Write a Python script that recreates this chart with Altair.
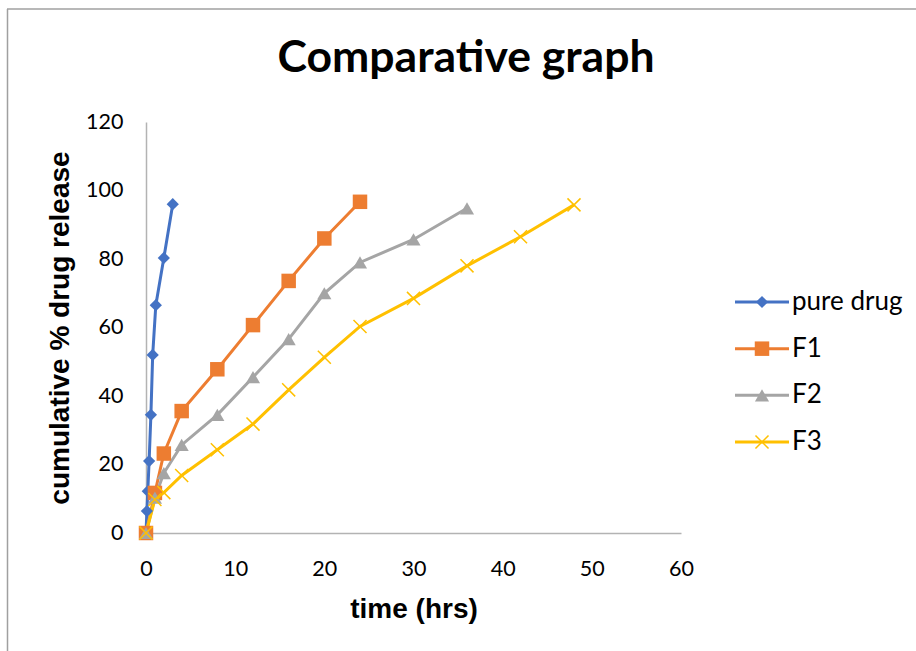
import altair as alt
import pandas as pd

# ---- data ----
pure_t = [0, 0.1, 0.2, 0.35, 0.55, 0.75, 1.1, 2, 3]
pure_v = [0, 6.4, 12.2, 21, 34.5, 52, 66.5, 80.3, 96]

f1_t = [0, 1, 2, 4, 8, 12, 16, 20, 24]
f1_v = [0, 11.7, 23.2, 35.6, 47.8, 60.7, 73.6, 86, 96.7]

f2_t = [0, 1, 2, 4, 8, 12, 16, 20, 24, 30, 36]
f2_v = [0, 10.3, 17.5, 25.7, 34.5, 45.5, 56.6, 70, 79, 85.7, 94.8]

f3_t = [0, 1, 2, 4, 8, 12, 16, 20, 24, 30, 36, 42, 48]
f3_v = [0, 9.8, 11.8, 16.8, 24.3, 31.8, 41.8, 51.3, 60.3, 68.5, 78, 86.5, 95.8]

series_names = ["pure drug", "F1", "F2", "F3"]
series_colors = ["#4472C4", "#ED7D31", "#A5A5A5", "#FFC000"]
title_text = ["Comparative graph"]

rows = []
for name, ts, vs in [("pure drug", pure_t, pure_v), ("F1", f1_t, f1_v),
                     ("F2", f2_t, f2_v), ("F3", f3_t, f3_v)]:
    for i, (t, v) in enumerate(zip(ts, vs)):
        rows.append({"series": name, "time": t, "release": v, "order": i})
df = pd.DataFrame(rows)
legend_df = pd.DataFrame({"series": series_names})
title_df = pd.DataFrame({"title": title_text})

color_scale = alt.Scale(domain=series_names, range=series_colors)
X_PATH = "M-1,-1L1,1M-1,1L1,-1"
marker_specs = [("pure drug", "diamond", 150, True), ("F1", "square", 210, True),
                ("F2", "triangle-up", 200, True), ("F3", X_PATH, 170, False)]

x_enc = alt.X("time:Q", scale=alt.Scale(domain=[0, 60]),
              axis=alt.Axis(values=[0, 10, 20, 30, 40, 50, 60], title="time (hrs)", grid=False,
                            labelFlush=False))
y_enc = alt.Y("release:Q", scale=alt.Scale(domain=[0, 120]),
              axis=alt.Axis(values=[0, 20, 40, 60, 80, 100, 120], title="cumulative % drug release",
                            grid=False, labelFlush=False))

lines = alt.Chart(df).mark_line(strokeWidth=3).encode(
    x=x_enc, y=y_enc, order="order:Q",
    color=alt.Color("series:N", scale=color_scale, legend=None),
)

point_layers = []
for name, shape, size, filled in marker_specs:
    c = series_colors[series_names.index(name)]
    extra = {} if filled else {"strokeWidth": 1.5}
    point_layers.append(
        alt.Chart(df).transform_filter(alt.datum.series == name)
        .mark_point(shape=shape, size=size, filled=filled, opacity=1, color=c, **extra)
        .encode(x="time:Q", y="release:Q")
    )

main = alt.layer(lines, *point_layers)

# ---- manual legend ----
leg_y = alt.Y("series:N", scale=alt.Scale(type="point", padding=0, domain=series_names,
                                          range=[180, 320]), axis=None)
leg_base = alt.Chart(legend_df)
leg_line = leg_base.mark_rule(strokeWidth=3).encode(
    y=leg_y, x=alt.value(589), x2=alt.value(643),
    color=alt.Color("series:N", scale=color_scale, legend=None))
leg_shapes = []
for name, shape, size, filled in marker_specs:
    c = series_colors[series_names.index(name)]
    extra = {} if filled else {"strokeWidth": 1.5}
    leg_shapes.append(
        leg_base.transform_filter(alt.datum.series == name)
        .mark_point(shape=shape, size=size, filled=filled, opacity=1, color=c, **extra)
        .encode(y=leg_y, x=alt.value(616))
    )
leg_text = leg_base.mark_text(align="left", baseline="middle", font="Lato", fontSize=26,
                              color="#000000").encode(
    y=leg_y, x=alt.value(646), text="series:N")

# ---- title and page frame ----
title_mark = alt.Chart(title_df).mark_text(
    align="center", baseline="alphabetic", font="Lato", fontSize=44.5, fontWeight="bold",
    color="#000000").encode(x=alt.value(320), y=alt.value(-50), text="title:N")
frame_top = alt.Chart(title_df).mark_rule(color="#A0A0A0", strokeWidth=1.5).encode(
    x=alt.value(-139), x2=alt.value(780), y=alt.value(-113))
frame_left = alt.Chart(title_df).mark_rule(color="#A0A0A0", strokeWidth=1.5).encode(
    x=alt.value(-138.5), y=alt.value(-113), y2=alt.value(540))

overlay = alt.layer(leg_line, *leg_shapes, leg_text, title_mark, frame_top, frame_left)

chart = alt.layer(main, overlay).resolve_scale(y="independent").properties(
    width=535, height=411,
    autosize=alt.AutoSizeParams(type="none"),
    padding={"left": 146, "top": 122, "right": 235, "bottom": 118},
    background="white",
).configure_view(stroke=None).configure_axis(
    domainColor="#B3B3B3", domainWidth=1.5, ticks=False,
    labelFont="Lato", labelFontSize=21.5, labelColor="#000000",
    titleFont="Liberation Sans", titleFontSize=28, titleFontWeight="bold", titleColor="#000000",
).configure_axisY(labelPadding=23, titlePadding=11).configure_axisX(
    labelPadding=25, titlePadding=16
)

chart.save("out.html", embed_options={"renderer": "svg", "actions": False})
